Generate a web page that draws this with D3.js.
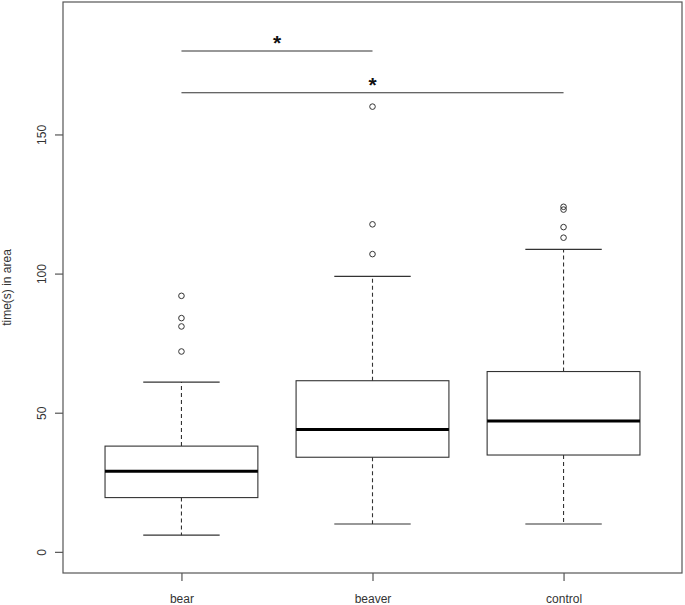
<!DOCTYPE html>
<html>
<head>
<meta charset="utf-8">
<script src="https://cdn.jsdelivr.net/npm/d3@7"></script>
<style>
  html, body { margin: 0; padding: 0; background: #fff; }
  svg { display: block; }
  text { font-family: "Liberation Sans", Arial, sans-serif; fill: #222; }
</style>
</head>
<body>
<svg id="chart" width="685" height="605"></svg>
<script>
// ---- data ----
const categories = ["bear", "beaver", "control"];
const whiskerLow  = [6, 10, 10];
const q1          = [19.5, 34, 34.8];
const medians     = [29, 44, 47];
const q3          = [38, 61.5, 64.8];
const whiskerHigh = [61, 99, 108.7];
const outliers    = [
  [72, 81, 84, 92],
  [107, 117.7, 160],
  [112.9, 116.7, 123, 124]
];
const yTicks = [0, 50, 100, 150];
const yLabel = "time(s) in area";
const comparisons = [
  { from: "bear", to: "beaver", value: 180, label: "*" },
  { from: "bear", to: "control", value: 165, label: "*" }
];

// ---- layout ----
const W = 685, H = 605;
const plot = { left: 63, right: 682, top: 2, bottom: 573 };
const svg = d3.select("#chart");

const x = d3.scaleLinear()
  .domain([0.5 - 0.04 * 3, 3.5 + 0.04 * 3])
  .range([plot.left, plot.right]);
const y = d3.scaleLinear()
  .domain([0 - 0.04 * 190, 190 + 0.04 * 190])
  .range([plot.bottom, plot.top]);
const pos = c => x(categories.indexOf(c) + 1);

const boxW = x(1.4) - x(1);   // half box width (0.8 wide box)
const capW = x(1.2) - x(1);   // half cap width

const stroke = "#333";

// box plot elements
const data = categories.map((c, i) => ({
  c, lo: whiskerLow[i], q1: q1[i], med: medians[i], q3: q3[i], hi: whiskerHigh[i], out: outliers[i]
}));

const g = svg.append("g");
const groups = g.selectAll("g.box").data(data).enter().append("g").attr("class", "box");

// dashed whiskers
groups.append("line")
  .attr("x1", d => pos(d.c)).attr("x2", d => pos(d.c))
  .attr("y1", d => y(d.q3)).attr("y2", d => y(d.hi))
  .attr("stroke", stroke).attr("stroke-width", 1.1).attr("stroke-dasharray", "4,3");
groups.append("line")
  .attr("x1", d => pos(d.c)).attr("x2", d => pos(d.c))
  .attr("y1", d => y(d.q1)).attr("y2", d => y(d.lo))
  .attr("stroke", stroke).attr("stroke-width", 1.1).attr("stroke-dasharray", "4,3");
// caps
groups.append("line")
  .attr("x1", d => pos(d.c) - capW).attr("x2", d => pos(d.c) + capW)
  .attr("y1", d => y(d.hi)).attr("y2", d => y(d.hi))
  .attr("stroke", stroke).attr("stroke-width", 1.1);
groups.append("line")
  .attr("x1", d => pos(d.c) - capW).attr("x2", d => pos(d.c) + capW)
  .attr("y1", d => y(d.lo)).attr("y2", d => y(d.lo))
  .attr("stroke", stroke).attr("stroke-width", 1.1);
// box
groups.append("rect")
  .attr("x", d => pos(d.c) - boxW).attr("width", 2 * boxW)
  .attr("y", d => y(d.q3)).attr("height", d => y(d.q1) - y(d.q3))
  .attr("fill", "none").attr("stroke", stroke).attr("stroke-width", 1.1);
// median
groups.append("line")
  .attr("x1", d => pos(d.c) - boxW).attr("x2", d => pos(d.c) + boxW)
  .attr("y1", d => y(d.med)).attr("y2", d => y(d.med))
  .attr("stroke", "#000").attr("stroke-width", 3);
// outliers
groups.selectAll("circle").data(d => d.out.map(v => ({ c: d.c, v }))).enter().append("circle")
  .attr("cx", d => pos(d.c)).attr("cy", d => y(d.v)).attr("r", 2.8)
  .attr("fill", "none").attr("stroke", stroke).attr("stroke-width", 1);

// significance bars
const sig = g.selectAll("g.sig").data(comparisons).enter().append("g");
sig.append("line")
  .attr("x1", d => pos(d.from)).attr("x2", d => pos(d.to))
  .attr("y1", d => y(d.value)).attr("y2", d => y(d.value))
  .attr("stroke", stroke).attr("stroke-width", 1.1);
sig.append("text")
  .attr("x", d => (pos(d.from) + pos(d.to)) / 2)
  .attr("y", d => y(d.value) - 1)
  .attr("text-anchor", "middle")
  .attr("font-size", 21)
  .attr("font-weight", "bold")
  .style("fill", "#111")
  .text(d => d.label);

// frame
svg.append("rect")
  .attr("x", plot.left).attr("y", plot.top)
  .attr("width", plot.right - plot.left).attr("height", plot.bottom - plot.top)
  .attr("fill", "none").attr("stroke", "#555").attr("stroke-width", 1.2);

// y axis
const yAxis = d3.axisLeft(y).tickValues(yTicks).tickSize(8).tickPadding(0).tickFormat(d3.format("d"));
const ya = svg.append("g").attr("transform", `translate(${plot.left},0)`).call(yAxis);
ya.select(".domain").remove();
ya.selectAll(".tick line").attr("stroke", "#555").attr("stroke-width", 1.2);
ya.selectAll(".tick text")
  .attr("x", null).attr("dy", null)
  .attr("text-anchor", "middle")
  .attr("transform", "translate(-21,0) rotate(-90) translate(0,4)")
  .attr("font-size", 12).style("fill", "#333");

// x axis
const xAxis = d3.axisBottom(x).tickValues([1, 2, 3]).tickSize(8).tickPadding(13)
  .tickFormat(d => categories[d - 1]);
const xa = svg.append("g").attr("transform", `translate(0,${plot.bottom})`).call(xAxis);
xa.select(".domain").remove();
xa.selectAll(".tick line").attr("stroke", "#555").attr("stroke-width", 1.2);
xa.selectAll(".tick text").attr("font-size", 12).style("fill", "#333").attr("font-family", "Liberation Sans, Arial, sans-serif");

// y label
svg.append("text")
  .attr("transform", `translate(11,${(plot.top + plot.bottom) / 2}) rotate(-90)`)
  .attr("text-anchor", "middle")
  .attr("font-size", 12)
  .style("fill", "#333")
  .text(yLabel);
</script>
</body>
</html>
